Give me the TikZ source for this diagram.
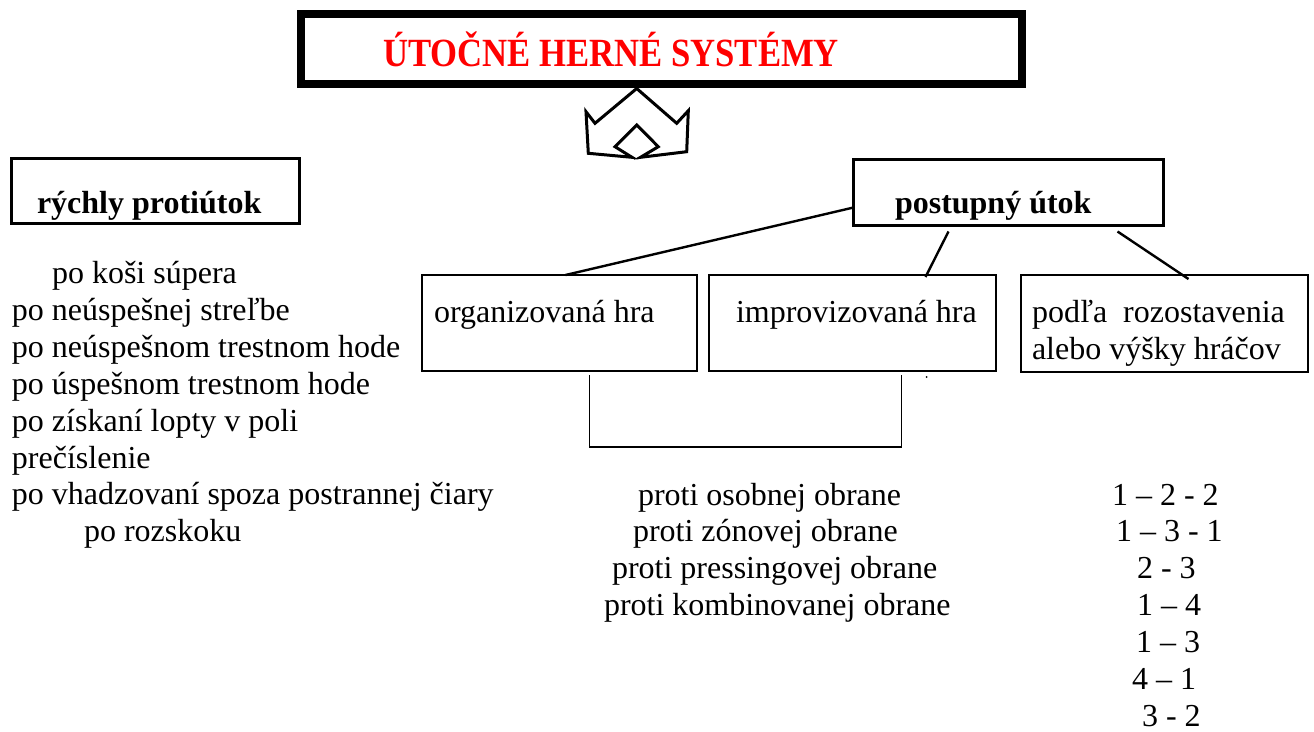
\documentclass[tikz,border=0pt]{standalone}
\usepackage{fontspec}
\setmainfont{Liberation Serif}
\usetikzlibrary{calc}
\definecolor{titlered}{RGB}{255,0,0}
\begin{document}
\begin{tikzpicture}[x=1pt,y=-1pt,
  every node/.style={inner sep=0pt,outer sep=0pt},
  frame/.style={draw,fill=none,rectangle},
  heavyframe/.style={frame,line width=8pt},
  midframe/.style={frame,line width=3pt},
  thinframe/.style={frame,line width=2pt},
  txt/.style={anchor=base west,font=\fontsize{32}{37}\selectfont},
  boldtxt/.style={txt,font=\fontsize{32}{37}\selectfont\bfseries},
  link/.style={line width=2.4pt},
  bracketline/.style={line width=1.6pt},
  splitarrow/.style={line width=3pt,line join=miter}]
\useasboundingbox (0,0) rectangle (1314,731);

% title frame and heading
\node[heavyframe,minimum width=721pt,minimum height=70pt] (title) at (661.5,49) {};
\node[anchor=base west,text=titlered,font=\fontsize{40}{46}\selectfont\bfseries] (titletext) at (383,66)
  {\scalebox{0.867}[1]{ÚTOČNÉ HERNÉ SYSTÉMY}};

% split arrow below the title
\draw[splitarrow] (636.7,88.5) -- (676.7,123.3) -- (688.3,110.7) -- (686.7,151.7)
  -- (640.5,157.3) -- (658.3,146.7) -- (636.7,125) -- (615,146.7) -- (632,157.3)
  -- (588.3,153.3) -- (586,111.7) -- (595,123.3) -- cycle;

% main branches
\node[midframe,minimum width=288pt,minimum height=65pt] (fast) at (155.5,191) {};
\node[boldtxt] (fasttext) at (37,213) {rýchly protiútok};

\node[midframe,minimum width=310pt,minimum height=66pt] (post) at (1008.5,192.5) {};
\node[boldtxt] (posttext) at (895,213) {postupný útok};

% sub-branches of the gradual attack
\node[thinframe,minimum width=275pt,minimum height=96pt] (org) at (559.5,323) {};
\node[txt] (orgtext) at (434,322) {organizovaná hra};

\node[thinframe,minimum width=287pt,minimum height=96pt] (imp) at (852.5,323) {};
\node[txt] (imptext) at (736,322) {improvizovaná hra};

\node[thinframe,minimum width=287pt,minimum height=97pt] (pod) at (1164.5,323.5) {};
\node[txt] (podtext1) at (1032,322) {podľa\ \ rozostavenia};
\node[txt] (podtext2) at (1032,359) {alebo výšky hráčov};

% connectors
\draw[link] ([yshift=-15pt]post.west) -- ([xshift=6pt]org.north);
\draw[link] ([xshift=-60pt,yshift=-6pt]post.south) -- ([xshift=73pt,yshift=-2pt]imp.north);
\draw[link] ([xshift=109pt,yshift=-6pt]post.south) -- ([xshift=24pt,yshift=-4pt]pod.north);

% bracket joining organized and improvised play
\draw[bracketline] ([xshift=30pt,yshift=-4pt]org.south) -- ++(0,72)
  -| ([xshift=49pt,yshift=-4pt]imp.south);
\fill ([xshift=74pt,yshift=-6pt]imp.south) circle (1pt);

% fast break situations
\node[txt] (f1) at (52,283) {po koši súpera};
\node[txt] (f2) at (12,320) {po neúspešnej streľbe};
\node[txt] (f3) at (12,357) {po neúspešnom trestnom hode};
\node[txt] (f4) at (12,394) {po úspešnom trestnom hode};
\node[txt] (f5) at (12,431) {po získaní lopty v poli};
\node[txt] (f6) at (12,468) {prečíslenie};
\node[txt] (f7) at (12,504) {po vhadzovaní spoza postrannej čiary};
\node[txt] (f8) at (84,541) {po rozskoku};

% defence types
\node[txt] (d1) at (638,505) {proti osobnej obrane};
\node[txt] (d2) at (633,541) {proti zónovej obrane};
\node[txt] (d3) at (612,578) {proti pressingovej obrane};
\node[txt] (d4) at (604,615) {proti kombinovanej obrane};

% player formations
\node[txt] (n1) at (1112,505) {1 – 2 - 2};
\node[txt] (n2) at (1116,541) {1 – 3 - 1};
\node[txt] (n3) at (1137,578) {2 - 3};
\node[txt] (n4) at (1137,615) {1 – 4};
\node[txt] (n5) at (1136,652) {1 – 3};
\node[txt] (n6) at (1132,689) {4 – 1};
\node[txt] (n7) at (1142,726) {3 - 2};
\end{tikzpicture}
\end{document}
